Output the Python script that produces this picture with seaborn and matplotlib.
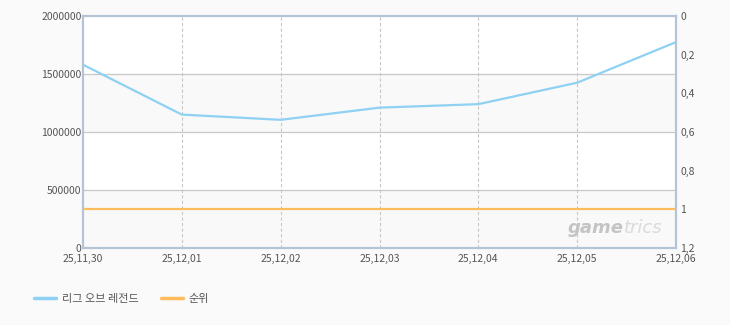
import matplotlib
matplotlib.use("Agg")
import matplotlib.pyplot as plt
import seaborn as sns
import pandas as pd
import numpy as np
from matplotlib.lines import Line2D

dates = ["25,11,30", "25,12,01", "25,12,02", "25,12,03", "25,12,04", "25,12,05", "25,12,06"]
lol_values = [1580000, 1150000, 1105000, 1210000, 1240000, 1425000, 1775000]
rank_values = [1, 1, 1, 1, 1, 1, 1]
series_names = ["리그 오브 레전드", "순위"]
left_ticks = [0, 500000, 1000000, 1500000, 2000000]
right_ticks = [0, 0.2, 0.4, 0.6, 0.8, 1, 1.2]
right_labels = ["0", "0,2", "0,4", "0,6", "0,8", "1", "1,2"]

sns.set_theme(style="white")
plt.rcParams['font.family'] = ['Noto Sans CJK KR', 'DejaVu Sans']

BLUE = "#8fd1f2"
ORANGE = "#ffbb5c"
FRAME = "#b3c4d6"
TXT = "#555555"

df = pd.DataFrame({"x": np.arange(len(dates)), "lol": lol_values, "rank": rank_values})

fig = plt.figure(figsize=(7.3, 3.25), dpi=100, facecolor="#fafafa")
ax = fig.add_axes([83/730, 1-248/325, (676-83)/730, (248-16)/325])
ax.set_facecolor("white")

# alternating bands
for i in range(len(left_ticks)-1):
    if i % 2 == 0:
        ax.axhspan(left_ticks[i], left_ticks[i+1], color="#f9f9f9", zorder=0, lw=0)

sns.lineplot(data=df, x="x", y="lol", ax=ax, color=BLUE, lw=1.6, legend=False, zorder=3)
ax.set_ylim(0, 2000000)
ax.set_xlim(0, len(dates)-1)
ax.set_yticks(left_ticks)
ax.set_yticklabels([str(t) for t in left_ticks])
ax.set_xticks(df["x"])
ax.set_xticklabels(dates)
for t in left_ticks[1:-1]:
    ax.axhline(t, color="#c8c8c8", lw=0.9, zorder=1)
for xi in df["x"][1:-1]:
    ax.axvline(xi, color="#c8c8c8", lw=0.8, ls=(0, (3, 2)), zorder=1)
ax.set_xlabel("")
ax.set_ylabel("")
ax.tick_params(axis="y", length=0, labelsize=7.5, labelcolor=TXT, pad=1)
ax.tick_params(axis="x", length=0, labelsize=7.5, labelcolor=TXT, pad=4)
for s in ax.spines.values():
    s.set_color(FRAME)
    s.set_linewidth(1.5)

ax2 = ax.twinx()
sns.lineplot(data=df, x="x", y="rank", ax=ax2, color=ORANGE, lw=1.6, legend=False, zorder=3)
ax2.set_ylim(1.2, 0)
ax2.set_yticks(right_ticks)
ax2.set_yticklabels(right_labels)
ax2.set_ylabel("")
ax2.tick_params(axis="y", length=0, labelsize=7.5, labelcolor=TXT, pad=3)
for s in ax2.spines.values():
    s.set_color(FRAME)
    s.set_linewidth(1.5)

ax.text(0.912, 0.088, "game", transform=ax.transAxes, ha="right", va="center",
        fontsize=13, fontweight="bold", style="italic", color="#c4c4c4", family="DejaVu Sans", zorder=2)
ax.text(0.912, 0.088, "trics", transform=ax.transAxes, ha="left", va="center",
        fontsize=13, style="italic", color="#dadada", family="DejaVu Sans", zorder=2)

# legend
handles = [Line2D([0], [0], color=BLUE, lw=2.5), Line2D([0], [0], color=ORANGE, lw=2.5)]
fig.legend(handles, series_names, loc="center left", bbox_to_anchor=(24/730, 1-299/325),
           ncol=2, frameon=False, fontsize=8, handlelength=2.0, handletextpad=0.5,
           columnspacing=2.0, labelcolor=TXT)

fig.savefig("out.png", dpi=100, facecolor=fig.get_facecolor())
